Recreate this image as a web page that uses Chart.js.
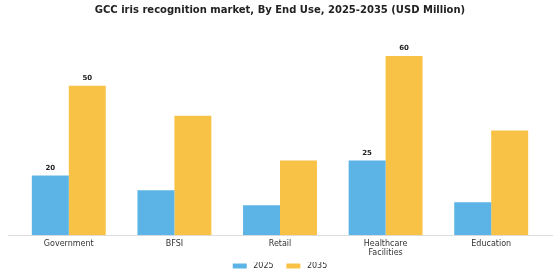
<!DOCTYPE html>
<html lang="en">
<head>
<meta charset="utf-8">
<title>GCC iris recognition market</title>
<script src="https://cdn.jsdelivr.net/npm/chart.js@4.4.0/dist/chart.umd.min.js"></script>
<style>
  html, body { margin: 0; padding: 0; background: #fff; }
</style>
</head>
<body>
<canvas id="chart" width="560" height="280"></canvas>
<script>
// data
const categories = ['Government', 'BFSI', 'Retail', ['Healthcare', 'Facilities'], 'Education'];
const values2025 = [20, 15, 10, 25, 11];
const values2035 = [50, 40, 25, 60, 35];
const labelled = [0, 3]; // categories that show value labels

const fontName = "'DejaVu Sans', sans-serif";

// value labels above some bars + a slightly wider baseline
const barLabels = {
  id: 'barLabels',
  beforeDatasetsDraw(chart) {
    const ctx = chart.ctx;
    const y0 = Math.round(chart.scales.y.getPixelForValue(0)) + 0.5;
    ctx.save();
    ctx.strokeStyle = '#ddd';
    ctx.lineWidth = 1;
    ctx.beginPath();
    ctx.moveTo(chart.chartArea.left - 8, y0);
    ctx.lineTo(chart.chartArea.right + 9, y0);
    ctx.stroke();
    ctx.restore();
  },
  afterDatasetsDraw(chart) {
    const ctx = chart.ctx;
    ctx.save();
    ctx.font = "bold 7px " + fontName;
    ctx.fillStyle = '#222';
    ctx.textAlign = 'center';
    ctx.textBaseline = 'bottom';
    chart.data.datasets.forEach((ds, di) => {
      const meta = chart.getDatasetMeta(di);
      labelled.forEach(i => {
        const bar = meta.data[i];
        ctx.fillText(ds.data[i], bar.x, bar.y - 4);
      });
    });
    ctx.restore();
  }
};

new Chart(document.getElementById('chart'), {
  type: 'bar',
  data: {
    labels: categories,
    datasets: [
      { label: '2025', data: values2025, backgroundColor: '#5cb3e5' },
      { label: '2035', data: values2035, backgroundColor: '#f8c246' }
    ]
  },
  options: {
    responsive: false,
    animation: false,
    devicePixelRatio: 1,
    layout: { padding: { left: 16, right: 16, top: 0, bottom: 0 } },
    datasets: { bar: { categoryPercentage: 0.7, barPercentage: 1 } },
    plugins: {
      title: {
        display: true,
        text: 'GCC iris recognition market, By End Use, 2025-2035 (USD Million)',
        font: { family: fontName, size: 10, weight: 'bold' },
        color: '#222',
        padding: { top: 4, bottom: 10 }
      },
      legend: {
        position: 'bottom',
        labels: {
          boxWidth: 14, boxHeight: 5,
          font: { family: fontName, size: 8 },
          color: '#333',
          padding: 0,
          // pad the text with spaces so the items sit further apart
          generateLabels(chart) {
            return Chart.defaults.plugins.legend.labels.generateLabels(chart)
              .map((item, i) => Object.assign(item, { text: ' ' + item.text + (i === 0 ? '     ' : '') }));
          }
        }
      },
      tooltip: { enabled: false }
    },
    scales: {
      x: {
        grid: { display: false, drawTicks: false },
        border: { display: true, color: '#ddd' },
        ticks: { font: { family: fontName, size: 8, lineHeight: 1.05 }, color: '#333', padding: 5, maxRotation: 0 }
      },
      y: {
        display: false,
        min: 0, max: 70
      }
    }
  },
  plugins: [barLabels]
});
</script>
</body>
</html>
